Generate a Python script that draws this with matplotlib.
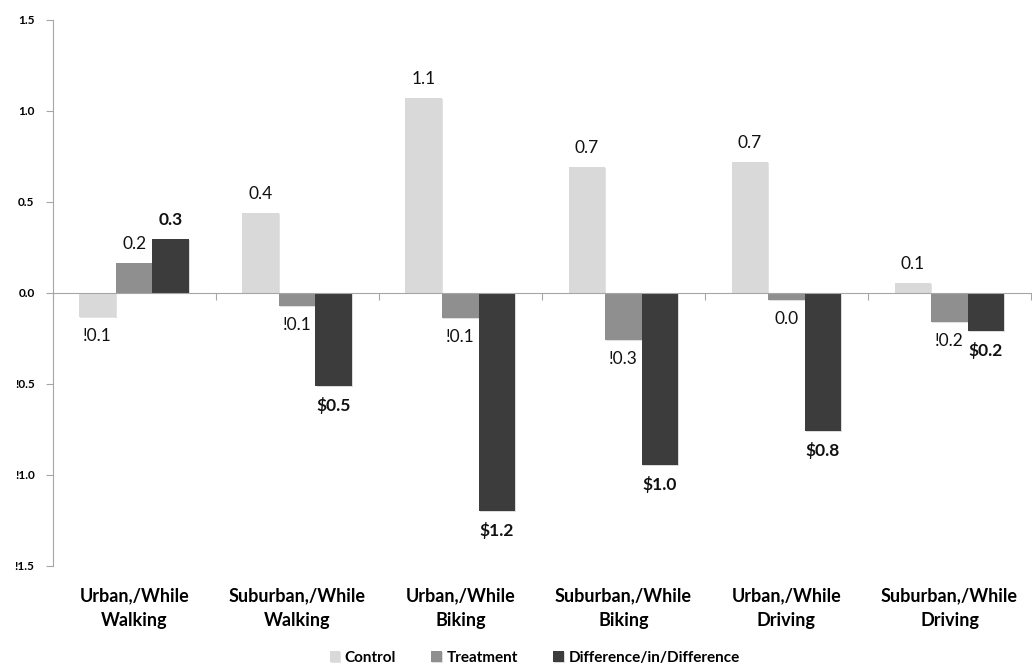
import matplotlib
matplotlib.use("Agg")
import matplotlib.pyplot as plt
import matplotlib.patheffects as pe
import numpy as np

categories = ["Urban,/While\nWalking", "Suburban,/While\nWalking", "Urban,/While\nBiking",
              "Suburban,/While\nBiking", "Urban,/While\nDriving", "Suburban,/While\nDriving"]
series_names = ["Control", "Treatment", "Difference/in/Difference"]
control = [-0.13, 0.44, 1.07, 0.69, 0.72, 0.055]
treatment = [0.165, -0.07, -0.135, -0.26, -0.04, -0.16]
diff = [0.295, -0.51, -1.2, -0.945, -0.76, -0.21]
control_labels = ["!0.1", "0.4", "1.1", "0.7", "0.7", "0.1"]
treatment_labels = ["0.2", "!0.1", "!0.1", "!0.3", "0.0", "!0.2"]
diff_labels = ["0.3", "$0.5", "$1.2", "$1.0", "$0.8", "$0.2"]
yticks = [1.5, 1.0, 0.5, 0.0, -0.5, -1.0, -1.5]
ytick_labels = ["1.5", "1.0", "0.5", "0.0", "!0.5", "!1.0", "!1.5"]

colors = ["#D9D9D9", "#8F8F8F", "#3C3C3C"]
plt.rcParams['font.family'] = ['Lato', 'DejaVu Sans']

fig = plt.figure(figsize=(10.32, 6.64), dpi=100)
ax = fig.add_axes([0.051, 0.1476, 0.948, 0.8224])

x = np.arange(len(categories))
w = 0.224
shadow = [pe.SimplePatchShadow(offset=(0.8, -0.8), alpha=0.15), pe.Normal()]
series = [control, treatment, diff]
labels = [control_labels, treatment_labels, diff_labels]
weights = ["normal", "normal", "bold"]
for i, (vals, lab, col, wt, name) in enumerate(zip(series, labels, colors, weights, series_names)):
    bars = ax.bar(x + (i - 1) * w, vals, width=w, color=col, label=name, zorder=2)
    for b in bars:
        b.set_path_effects(shadow)
    ax.bar_label(bars, labels=lab, padding=8, fontsize=12.5, fontweight=wt, color="#111111")

ax.set_xlim(-0.5, len(categories) - 0.5)
ax.set_ylim(-1.5, 1.5)
ax.set_yticks(yticks)
ax.set_yticklabels(ytick_labels, fontsize=8.5, fontweight="bold")
ax.tick_params(axis="y", length=5, color="#A6A6A6", pad=8)

for s in ["top", "right"]:
    ax.spines[s].set_visible(False)
ax.spines["left"].set_color("#A6A6A6")
ax.spines["bottom"].set_position(("data", 0))
ax.spines["bottom"].set_color("#A6A6A6")
ax.spines["bottom"].set_zorder(3)
ax.set_xticks(np.arange(len(categories) + 1) - 0.5)
ax.set_xticklabels([])
ax.tick_params(axis="x", length=5, color="#A6A6A6", direction="out")

sec = ax.secondary_xaxis(0.0)
sec.set_xticks(x)
sec.set_xticklabels(categories, fontsize=13, fontweight="bold", linespacing=1.6)
sec.tick_params(length=0, pad=15)
sec.spines["bottom"].set_visible(False)

fig.legend(loc="lower center", bbox_to_anchor=(0.518, -0.022), ncol=3, frameon=False,
           prop={"weight": "bold", "size": 11}, handlelength=0.7, handleheight=0.7,
           handletextpad=0.3, columnspacing=2.3)

fig.savefig("out.png", dpi=100)
